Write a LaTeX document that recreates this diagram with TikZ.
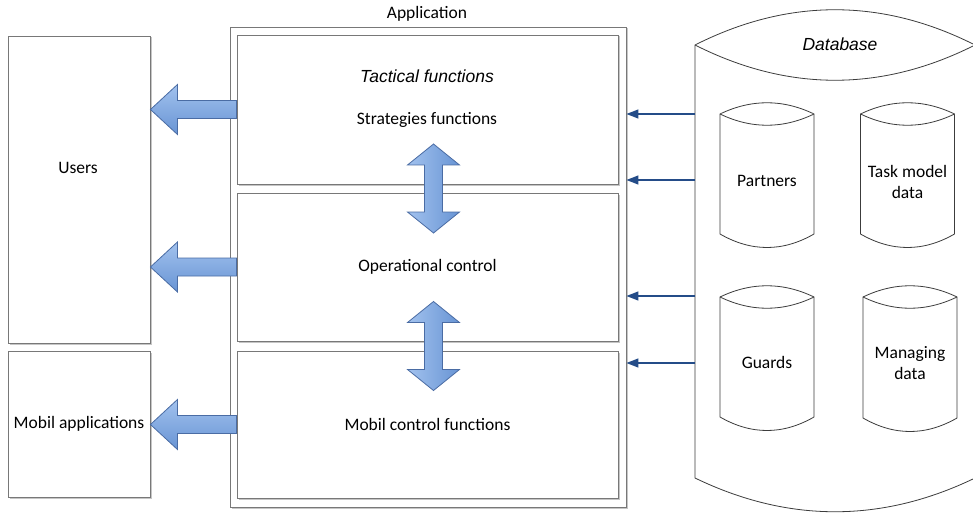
\documentclass[tikz,border=0pt]{standalone}
\usepackage{fontspec}
\setmainfont{Carlito}
\newfontfamily\arialfont{Liberation Sans}
\usetikzlibrary{calc,shadows,arrows.meta}

\definecolor{boxgray}{RGB}{120,120,120}
\definecolor{dbgray}{RGB}{60,60,60}
\definecolor{arrowlight}{RGB}{162,194,238}
\definecolor{arrowdark}{RGB}{104,148,212}
\definecolor{arrowline}{RGB}{74,108,164}
\definecolor{datablue}{RGB}{36,76,136}
\newcommand\diagfont{\fontsize{17.5}{21}\selectfont}

\begin{document}
\begin{tikzpicture}[x=1pt,y=-1pt,font=\diagfont,
  panel/.style={draw=boxgray,line width=0.9pt,fill=white,inner sep=0pt,
    drop shadow={shadow xshift=1.5pt,shadow yshift=-1.5pt,fill=gray,opacity=.45}},
  blockarrow/.style={draw=arrowline,line width=0.8pt},
  hblock/.style={blockarrow,top color=arrowlight,bottom color=arrowdark},
  vblock/.style={blockarrow,left color=arrowlight,right color=arrowdark},
  dataarrow/.style={draw=datablue,line width=1.4pt,-{Triangle[length=12pt,width=9pt]}},
  store/.style={draw=dbgray,line width=0.8pt,fill=white}]
  \useasboundingbox (0,0) rectangle (973,513);
  \clip (0,0) rectangle (973,513);

  % application and its three layers
  \node[panel,minimum width=396pt,minimum height=480pt] (app) at (428,267) {};
  \node (apptxt) at (427,14) {Application};
  \node[panel,minimum width=381pt,minimum height=149pt] (tac) at (427.5,109.5) {};
  \node[panel,minimum width=381pt,minimum height=148pt] (op) at (427.5,267) {Operational control};
  \node[panel,minimum width=381pt,minimum height=147pt] (mob) at (427.5,424.5) {Mobil control functions};
  \node[font=\diagfont\arialfont\itshape] (tactitle) at (427,76) {Tactical functions};
  \node (tacstrat) at (427,120) {Strategies functions};

  % clients
  \node[panel,minimum width=142pt,minimum height=307pt] (users) at (79,189.5) {};
  \node (userstxt) at (78,168) {Users};
  \node[panel,minimum width=142pt,minimum height=146pt] (mobapp) at (79,424) {Mobil applications};

  % block arrows towards the clients
  \foreach \src in {tac,op,mob} {
    \draw[hblock] ($(\src.west)+(0,-9)$) -- ($(users.east |- \src.west)+(27,-9)$)
      -- ++(0,-16) -- (users.east |- \src.west) -- ++(27,25) -- ++(0,-16)
      -- ($(\src.west)+(0,9)$) -- cycle;
  }

  % exchange between layers
  \foreach \a/\b in {tac/op,op/mob} {
    \coordinate (mid) at ($(\a.south)!0.5!(\b.north)+(6,0)$);
    \draw[vblock] ($(mid)+(0,-44.5)$) -- ++(26,21) -- ++(-17,0) -- ++(0,47)
      -- ++(17,0) -- ++(-26,21) -- ++(-26,-21) -- ++(17,0) -- ++(0,-47)
      -- ++(-17,0) -- cycle;
  }

  % database
  \coordinate (dbw) at (695,45);
  \draw[store] (695,45) -- (695,478)
    .. controls (788,523) and (882,523) .. (975,478) -- (975,45)
    .. controls (882,-2) and (788,-2) .. cycle;
  \draw[store] (695,45) .. controls (788,92) and (882,92) .. (975,45);
  \node[font=\diagfont\arialfont\itshape] (dbtxt) at (840,44) {Database};

  \foreach \cx/\top/\bot/\ty/\nm/\txt in {
      767/114/234/181/partners/Partners,
      907.5/114/234/182/taskdata/{Task model\\data},
      767/297/417/362/guards/Guards,
      910/297/418/363/mandata/{Managing\\data}} {
    \draw[store] (\cx-47,\top) -- (\cx-47,\bot)
      .. controls (\cx-15.7,\bot+18) and (\cx+15.7,\bot+18) .. (\cx+47,\bot)
      -- (\cx+47,\top)
      .. controls (\cx+15.7,\top-15) and (\cx-15.7,\top-15) .. cycle;
    \draw[store] (\cx-47,\top)
      .. controls (\cx-15.7,\top+15) and (\cx+15.7,\top+15) .. (\cx+47,\top);
    \node[align=center] (\nm) at (\cx,\ty) {\txt};
  }

  % data flow into the application
  \foreach \y in {114,180,296,363}
    \draw[dataarrow] (dbw |- 0,\y) -- (app.east |- 0,\y);
\end{tikzpicture}
\end{document}
